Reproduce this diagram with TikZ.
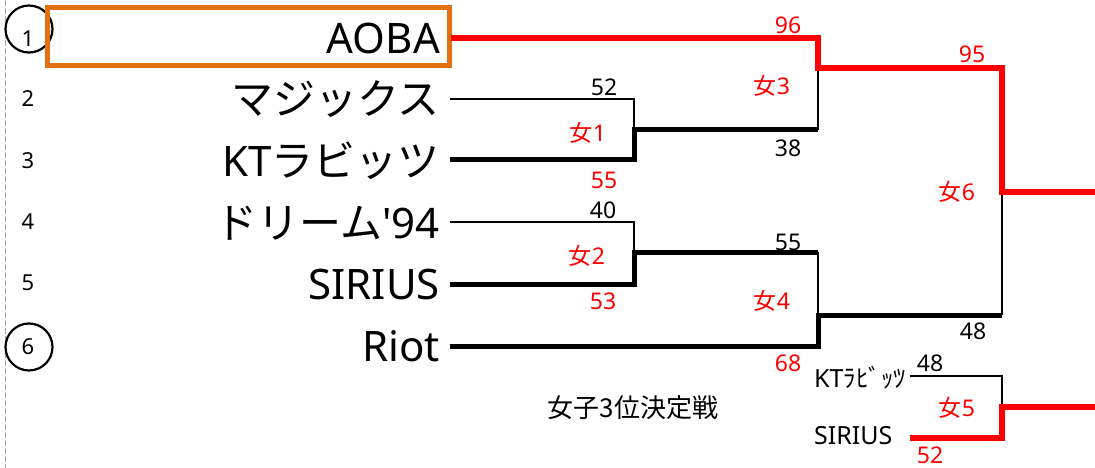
\documentclass[tikz,border=0pt]{standalone}
\usepackage{fontspec}
\setmainfont{Noto Sans}[Ligatures=TeXOff]
\newfontfamily\jp{Noto Sans CJK JP}[Ligatures=TeXOff]
\definecolor{winred}{RGB}{255,0,0}
\definecolor{aoba}{RGB}{226,112,14}
\begin{document}
\begin{tikzpicture}[x=1pt,y=-1pt,
  team/.style={anchor=base east,inner sep=0pt,font=\fontsize{42}{42}\selectfont},
  seed/.style={inner sep=0pt,font=\fontsize{22}{22}\selectfont},
  score/.style={inner sep=0pt,font=\fontsize{23}{23}\selectfont},
  redscore/.style={score,text=winred},
  small/.style={anchor=west,inner sep=0pt,font=\fontsize{25}{25}\selectfont},
  thinline/.style={line width=1.3pt,black},
  thickline/.style={line width=5pt,black,line join=miter},
  redline/.style={line width=5.5pt,winred,line join=miter},
  ring/.style={draw,circle,line width=2.2pt,minimum size=47pt,inner sep=0pt}
]
\useasboundingbox (0,0) rectangle (1095,468);
% left border
\draw[gray!70,line width=1pt,dash pattern=on 6pt off 2pt] (5,0) -- (5,468);

% seed numbers
\node[seed] (n1) at (28,39) {1};
\node[seed] (n2) at (28,99) {2};
\node[seed] (n3) at (28,161) {3};
\node[seed] (n4) at (28,222) {4};
\node[seed] (n5) at (28,283) {5};
\node[seed] (n6) at (28,347) {6};
\node[ring] (r1) at (29,29) {};
\node[ring] (r6) at (29,347) {};

% AOBA box
\node[draw=aoba,line width=5pt,minimum width=401.5pt,minimum height=58.5pt,inner sep=0pt] (box) at (248.25,36.75) {};

% team names
\node[team] (aoba) at (440,54) {AOBA};
\node[team] (magic) at (440,115) {\jp マジックス};
\node[team] (kt) at (440,176) {KT{\jp ラビッツ}};
\node[team] (dream) at (440,238) {{\jp ドリーム}'94};
\node[team] (sirius) at (440,299) {SIRIUS};
\node[team] (riot) at (440,361) {Riot};

% bracket coordinates
\coordinate (s1) at (451,38);
\coordinate (s2) at (450,99);
\coordinate (s3) at (450,160);
\coordinate (s4) at (450,222);
\coordinate (s5) at (450,284);
\coordinate (s6) at (450,346);
\coordinate (m1) at (634,130);
\coordinate (m2) at (634,252);
\coordinate (q3) at (818,130);
\coordinate (m3) at (818,68);
\coordinate (q4) at (818,252);
\coordinate (m4) at (818,315);
\coordinate (q6) at (1002,315);
\coordinate (m6) at (1002,192);
\coordinate (e6) at (1095,192);
\coordinate (c1) at (910,376);
\coordinate (c2) at (910,438);
\coordinate (m5) at (1002,407);
\coordinate (e5) at (1095,407);

% thin (losing) lines
\draw[thinline] (s2) -| (m1);
\draw[thinline] (q3) -- (m3);
\draw[thinline] (s4) -| (m2);
\draw[thinline] (q4) -- (m4);
\draw[thinline] (q6) -- (m6);
\draw[thinline] (c1) -| (m5);

% thick (winning) lines
\draw[thickline] (s3) -| (m1) -- (q3);
\draw[thickline] (s5) -| (m2) -- (q4);
\draw[thickline] (s6) -| (m4) -- (q6);

% red lines
\draw[redline] (s1) -| (m3) -| (m6) -- (e6);
\draw[redline] (c2) -| (m5) -- (e5);

% match labels and scores
\node[score] (a52) at (604,87) {52};
\node[redscore] (g1) at (588,133) {{\jp 女}1};
\node[redscore] (a55) at (604,180) {55};
\node[redscore] (a96) at (788,25) {96};
\node[redscore] (g3) at (772,86) {{\jp 女}3};
\node[score] (a38) at (788,148) {38};
\node[redscore] (a95) at (972,54) {95};
\node[redscore] (g6) at (957,192) {{\jp 女}6};
\node[score] (a40) at (603,210) {40};
\node[redscore] (g2) at (587,256) {{\jp 女}2};
\node[redscore] (a53) at (603,301) {53};
\node[score] (b55) at (788,242) {55};
\node[redscore] (g4) at (772,301) {{\jp 女}4};
\node[redscore] (a68) at (788,363) {68};
\node[score] (a48) at (973,331) {48};
\node[score] (b48) at (930,363) {48};
\node[redscore] (g5) at (957,408) {{\jp 女}5};
\node[redscore] (b52) at (930,455) {52};

% third place match
\node[small] (kt2) at (814,378) {KT{\jp ﾗﾋﾞｯﾂ}};
\node[small] (sirius2) at (814,436) {SIRIUS};
\node[inner sep=0pt,font=\fontsize{26}{26}\selectfont] (third) at (633,408) {\jp 女子3位決定戦};
\end{tikzpicture}
\end{document}
